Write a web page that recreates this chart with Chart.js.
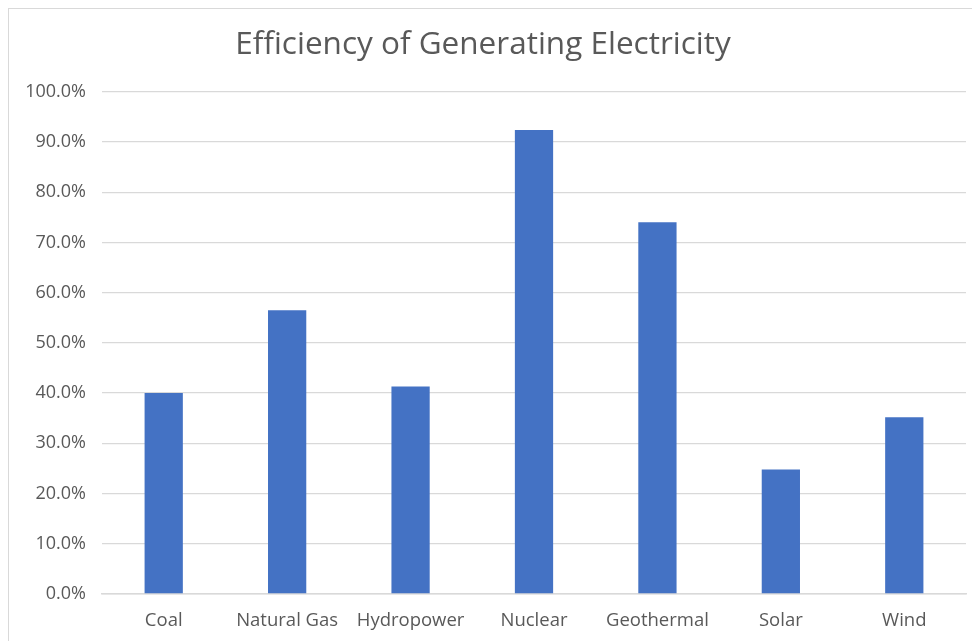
<!DOCTYPE html>
<html>
<head>
<meta charset="utf-8">
<script src="https://cdn.jsdelivr.net/npm/chart.js@4.4.1/dist/chart.umd.min.js"></script>
<style>
    html, body { margin: 0; padding: 0; background: #fff; }
    #wrap { position: relative; width: 972px; height: 641px; }
    #frame {
        position: absolute; left: 8px; top: 8px; right: -2px; bottom: -2px;
        border: 1px solid #d9d9d9; pointer-events: none;
    }
</style>
</head>
<body>
<div id="wrap">
    <canvas id="barChart" width="972" height="641"></canvas>
    <div id="frame"></div>
</div>
<script>
const sources = ['Coal', 'Natural Gas', 'Hydropower', 'Nuclear', 'Geothermal', 'Solar', 'Wind'];
const efficiency = [0.400, 0.565, 0.413, 0.924, 0.740, 0.248, 0.352];
const yMin = 0;
const yMax = 1;
const yStep = 0.1;

const textColor = '#595959';
const gridColor = '#d9d9d9';

const myBarChart = document.getElementById('barChart').getContext('2d');

new Chart(myBarChart, {
    type: 'bar',
    data: {
        labels: sources,
        datasets: [
            {
                label: 'Efficiency',
                data: efficiency,
                backgroundColor: '#4472c4',
                categoryPercentage: 1,
                barPercentage: 0.31,
            }
        ]
    },
    options: {
        responsive: false,
        animation: false,
        layout: {
            padding: { left: 0, right: 6, top: 0, bottom: 0 }
        },
        plugins: {
            legend: { display: false },
            tooltip: { enabled: false },
            title: {
                display: true,
                text: 'Efficiency of Generating Electricity',
                color: textColor,
                font: { family: 'Open Sans', size: 31.5, weight: 'normal', lineHeight: 1.2 },
                padding: { top: 26, bottom: 28 },
            },
        },
        scales: {
            x: {
                afterFit: scale => { scale.height = 47; },
                grid: { display: false, drawTicks: false },
                border: { display: true, color: gridColor, width: 1.5 },
                ticks: {
                    color: textColor,
                    padding: 16,
                    font: { family: 'Open Sans', size: 18.5 },
                },
            },
            y: {
                min: yMin,
                max: yMax,
                afterFit: scale => { scale.width = 102; },
                grid: { color: gridColor, lineWidth: 1.3, drawTicks: false },
                border: { display: false },
                ticks: {
                    stepSize: yStep,
                    color: textColor,
                    padding: 16,
                    font: { family: 'Open Sans', size: 18 },
                    callback: value => (value * 100).toFixed(1) + '%',
                },
            }
        }
    }
});
</script>
</body>
</html>
